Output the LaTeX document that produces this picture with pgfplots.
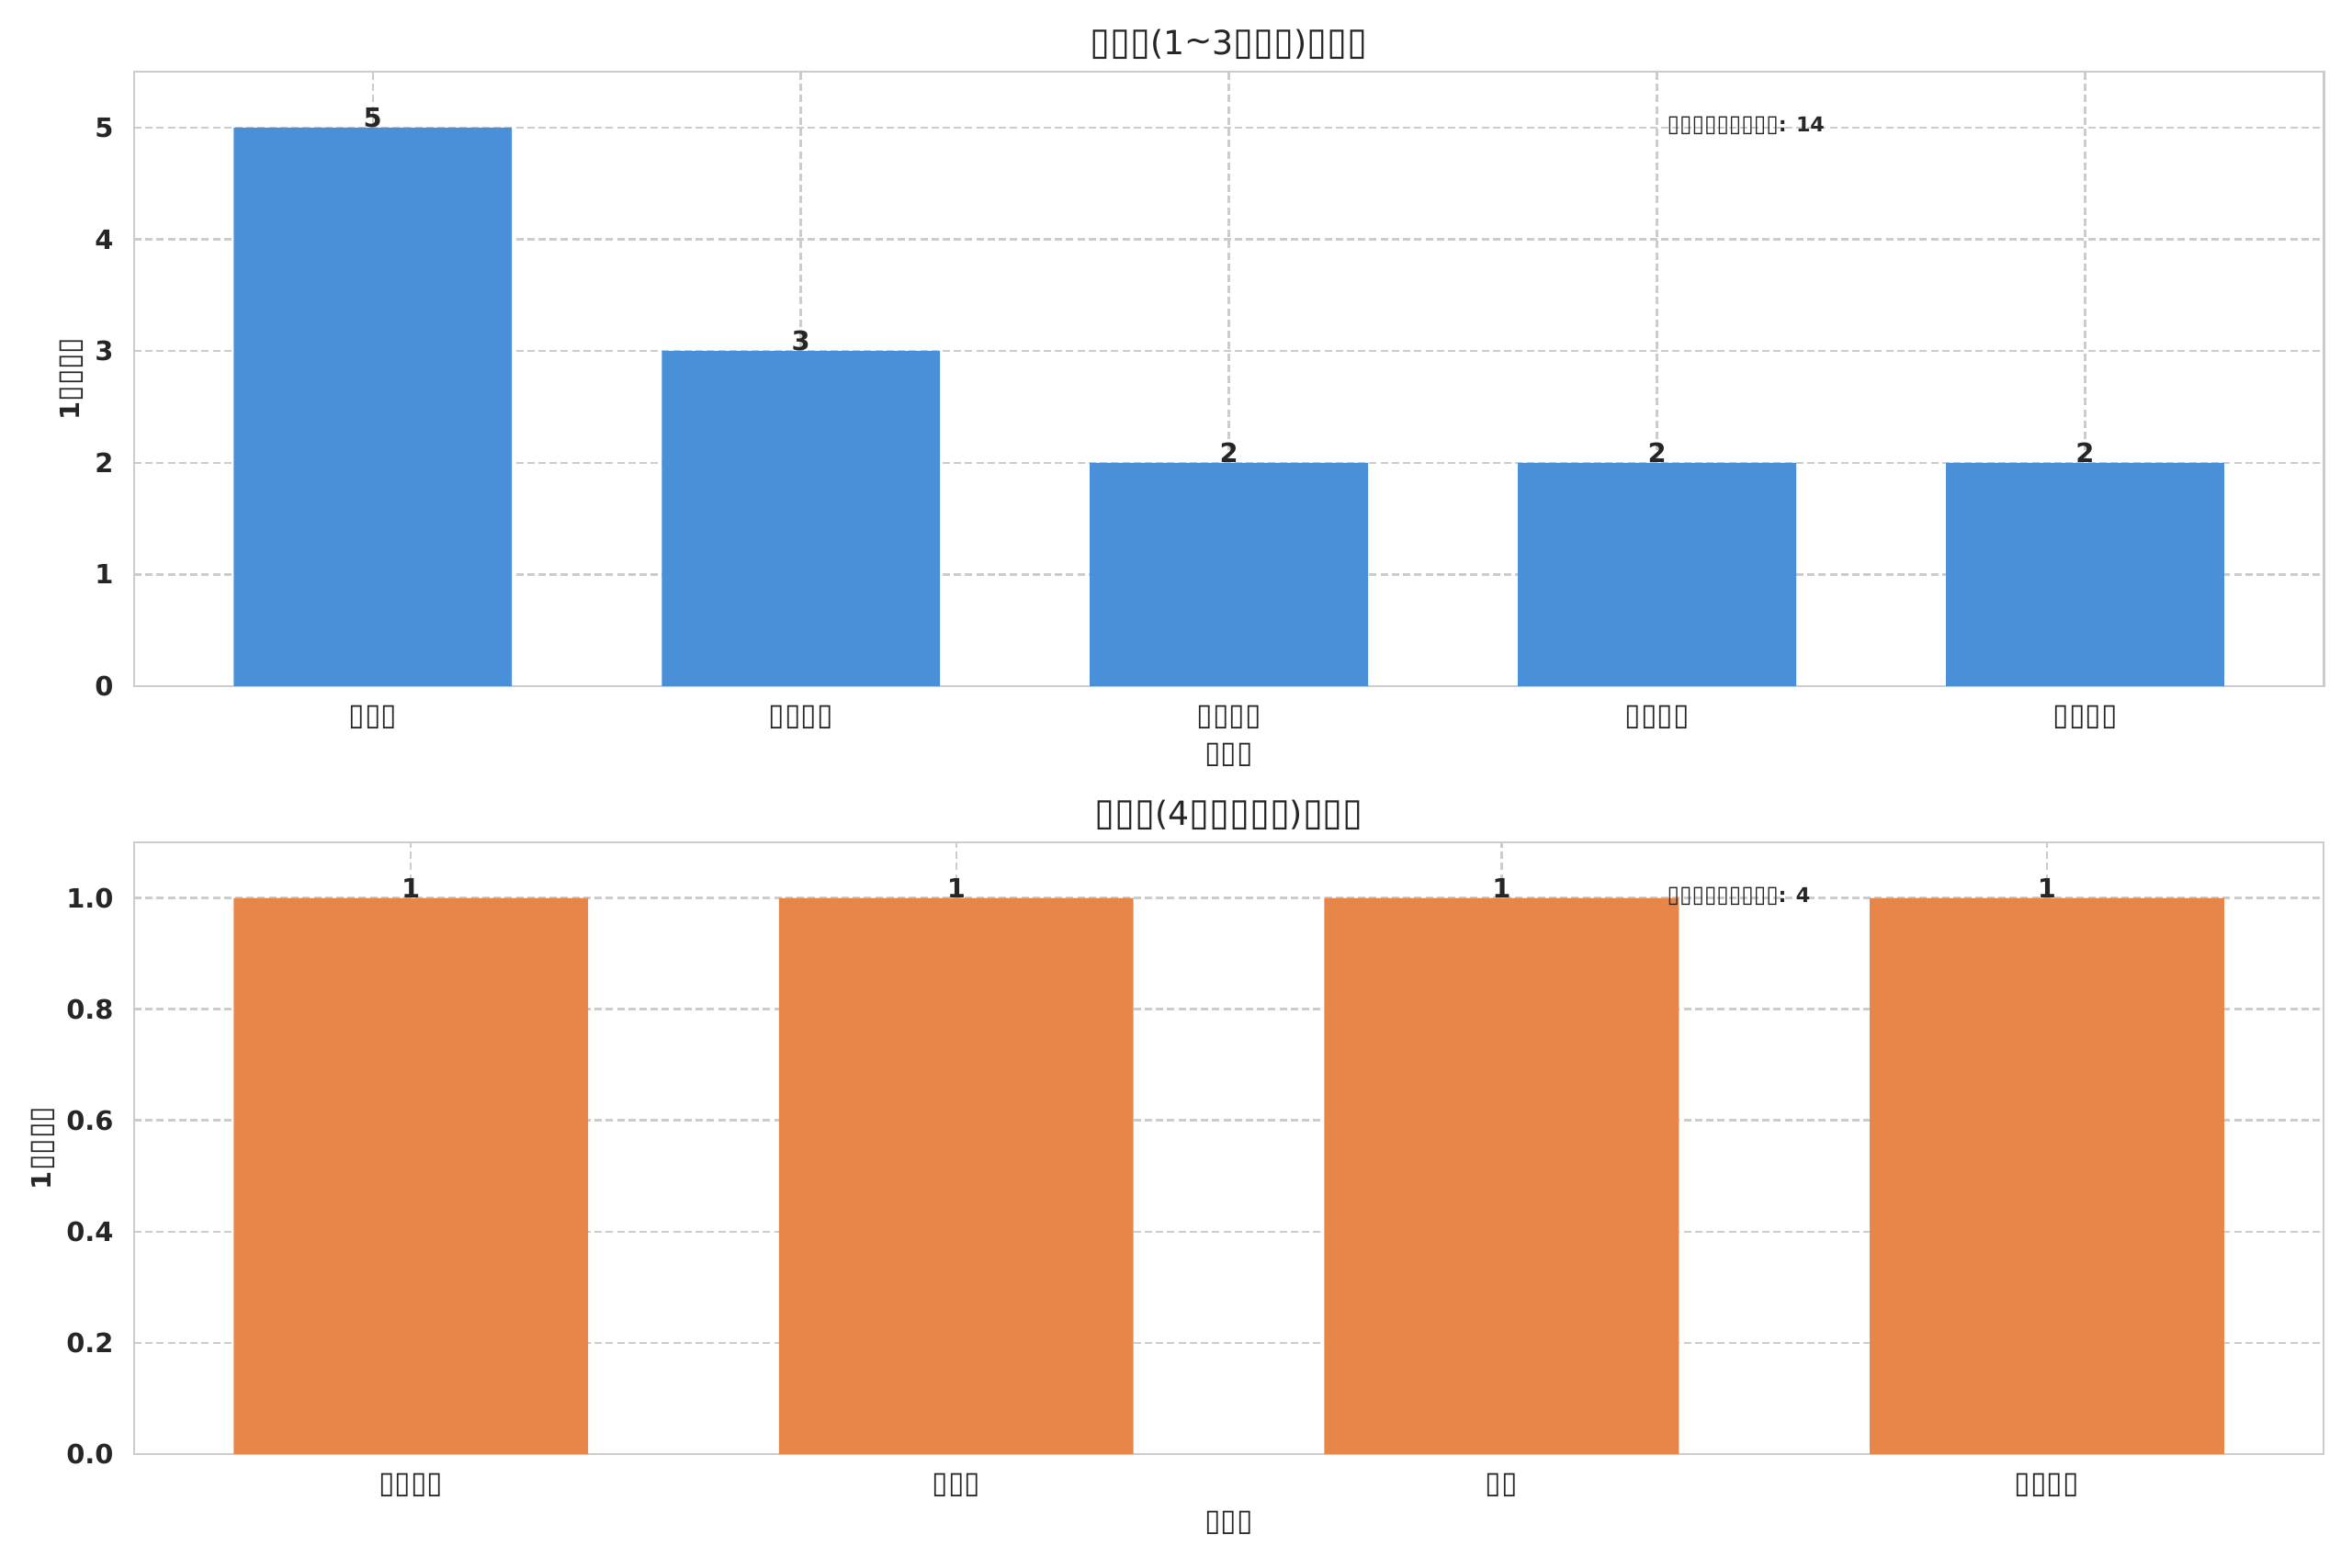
\documentclass[border=0pt]{standalone}
\usepackage{pgfplots}
\pgfplotsset{compat=1.18}
\usepackage{fontspec}
\setmainfont{DejaVu Sans}
\definecolor{barblue}{HTML}{4A90D9}
\definecolor{barorange}{HTML}{E8864A}
\definecolor{gridgray}{HTML}{CCCCCC}
\definecolor{txt}{HTML}{262626}
\newcommand{\T}{\scalebox{1.1}[1.15]{▯}}
\begin{document}
\begin{tikzpicture}
\useasboundingbox (0,0) rectangle (1152pt,768.15pt);
\pgfplotsset{
 mystyle/.style={
  scale only axis, width=1072.4pt, anchor=south west,
  axis line style={gridgray, line width=1.1pt},
  ymajorgrids, xmajorgrids,
  grid style={gridgray, line width=1.1pt, dash pattern=on 3.6pt off 1.9pt},
  major tick length=0pt,
  /pgf/number format/assume math mode=true,
  xticklabel style={font=\fontsize{13}{15}\selectfont, text=txt, anchor=center, yshift=-15.3pt},
  yticklabel style={font=\fontsize{13}{15}\selectfont\bfseries, text=txt, anchor=east, inner sep=0pt, xshift=-9.9pt},
  ybar, bar width=0.65, ymin=0,
  xtick=data,
  nodes near coords,
  nodes near coords style={font=\fontsize{13}{15}\selectfont\bfseries, text=txt, anchor=south, inner sep=0pt},
  title style={font=\fontsize{16.3}{19}\selectfont, text=txt, at={(0.5,1)}, anchor=center, yshift=7.5pt},
  xlabel style={font=\fontsize{13}{15}\selectfont, text=txt, at={(0.5,0)}, anchor=center, yshift=-33.5pt},
  ylabel style={font=\fontsize{13}{15}\selectfont, text=txt, anchor=center},
 }}

\begin{axis}[mystyle, at={(65.7pt,432pt)}, height=301pt,
  xmin=-0.5575, xmax=4.5575, ymax=5.5,
  ytick={0,1,2,3,4,5},
  xticklabels={\T\T\T,\T\T\T\T,\T\T\T\T,\T\T\T\T,\T\T\T\T},
  title={\T\T\T(1\raisebox{0.15ex}{\char"223C}3\T\T\T)\T\T\T},
  xlabel={\T\T\T},
  ylabel={{\bfseries 1}\T\T\T\T},
  ylabel style={at={(axis description cs:-0.0285,0.5)}},
]
\addplot[fill=barblue, draw=none] coordinates {(0,5) (1,3) (2,2) (3,2) (4,2)};
\node[anchor=west, inner sep=0pt, font=\fontsize{10}{12}\selectfont\bfseries, text=txt] at (rel axis cs:0.7,0.912) {\T\T\T\T\T\T\T\T\T: 14};
\end{axis}

\begin{axis}[mystyle, at={(65.7pt,55.8pt)}, height=299.7pt,
  xmin=-0.5075, xmax=3.5075, ymax=1.1,
  ytick={0,0.2,0.4,0.6,0.8,1.0},
  yticklabel={\pgfmathprintnumber[fixed,fixed zerofill,precision=1]{\tick}},
  nodes near coords={\pgfmathprintnumber[fixed,precision=0]{\pgfplotspointmeta}},
  xticklabels={\T\T\T\T,\T\T\T,\T\T,\T\T\T\T},
  title={\T\T\T(4\T\T\T\T\T)\T\T\T},
  xlabel={\T\T\T},
  ylabel={{\bfseries 1}\T\T\T\T},
  ylabel style={at={(axis description cs:-0.0417,0.5)}},
]
\addplot[fill=barorange, draw=none] coordinates {(0,1) (1,1) (2,1) (3,1)};
\node[anchor=west, inner sep=0pt, font=\fontsize{10}{12}\selectfont\bfseries, text=txt] at (rel axis cs:0.7,0.912) {\T\T\T\T\T\T\T\T\T: 4};
\end{axis}
\end{tikzpicture}
\end{document}
